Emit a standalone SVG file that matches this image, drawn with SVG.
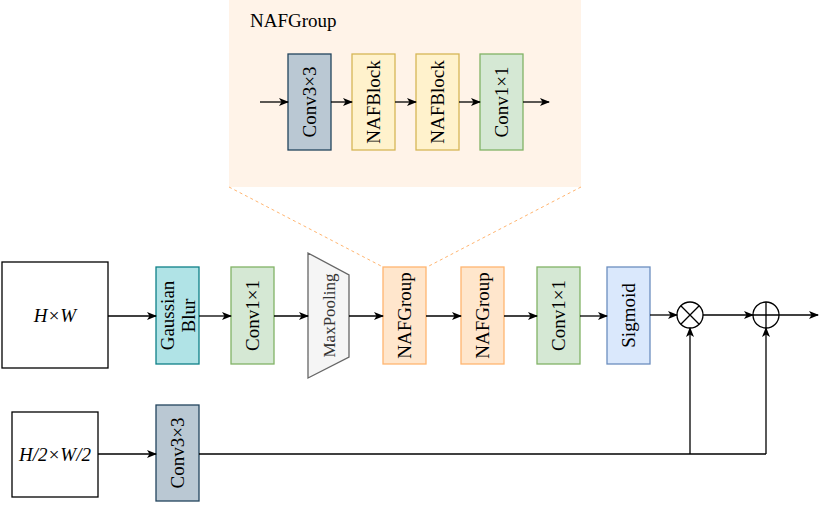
<svg xmlns="http://www.w3.org/2000/svg" width="831" height="506" viewBox="0 0 831 506">
<defs>
<marker id="arr" viewBox="0 0 10 10" refX="9" refY="5" markerWidth="10" markerHeight="10" markerUnits="userSpaceOnUse" orient="auto">
<path d="M0,1 L10,5 L0,9 L2.5,5 Z" fill="#000"/>
</marker>
<style>
text{font-family:"Liberation Serif","Times New Roman",serif;font-size:19px;fill:#000}
.lbl{text-anchor:middle}
.it{font-style:italic}
.c{fill:none;stroke:#000;stroke-width:1.3}
.blue{fill:#bac8d3;stroke:#23445d;stroke-width:1.3}
.yel{fill:#fff2cc;stroke:#d6b656;stroke-width:1.3}
.grn{fill:#d5e8d4;stroke:#82b366;stroke-width:1.3}
.org{fill:#ffe6cc;stroke:#ffb570;stroke-width:1.3}
.cyan{fill:#b0e3e6;stroke:#0e8088;stroke-width:1.3}
.sig{fill:#dae8fc;stroke:#6c8ebf;stroke-width:1.3}
.wht{fill:#fff;stroke:#000;stroke-width:1.3}
</style>
</defs>
<rect width="831" height="506" fill="#fff"/>

<g id="panel">
<rect x="229" y="0" width="352" height="187" fill="#fff3e8"/>
<text x="250" y="27">NAFGroup</text>
</g>

<g id="dashes">
<path d="M229,187 L383,267 M581,187 L427,267" fill="none" stroke="#ffb570" stroke-width="1" stroke-dasharray="3,3"/>
</g>

<g id="in_conv3"><rect class="blue" x="288" y="54" width="43" height="96"/><text class="lbl" transform="translate(309.5,102) rotate(-90)" dy="6.5">Conv3×3</text></g>
<g id="in_naf1"><rect class="yel" x="352" y="54" width="43" height="96"/><text class="lbl" transform="translate(373.5,102) rotate(-90)" dy="6.5">NAFBlock</text></g>
<g id="in_naf2"><rect class="yel" x="416" y="54" width="43" height="96"/><text class="lbl" transform="translate(437.5,102) rotate(-90)" dy="6.5">NAFBlock</text></g>
<g id="in_conv1"><rect class="grn" x="480" y="54" width="43" height="96"/><text class="lbl" transform="translate(501.5,102) rotate(-90)" dy="6.5">Conv1×1</text></g>

<g id="hw"><rect class="wht" x="2" y="262" width="106" height="106"/><text class="lbl it" x="55" y="321.5">H×W</text></g>
<g id="gauss"><rect class="cyan" x="156" y="267" width="43" height="97"/>
<text class="lbl" transform="translate(177.5,315.5) rotate(-90)"><tspan x="0" y="-4">Gaussian</tspan><tspan x="0" y="17">Blur</tspan></text></g>
<g id="conv1a"><rect class="grn" x="231" y="267" width="43" height="97"/><text class="lbl" transform="translate(252.5,315.5) rotate(-90)" dy="6.5">Conv1×1</text></g>
<g id="maxpool"><path d="M308,253 L349,275 L349,357 L308,378 Z" fill="#f5f5f5" stroke="#666" stroke-width="1.3"/><text class="lbl" transform="translate(329,315.5) rotate(-90)" dy="6" style="font-size:17px;fill:#333">MaxPooling</text></g>
<g id="naf1"><rect class="org" x="383" y="267" width="43" height="97"/><text class="lbl" transform="translate(404.5,315.5) rotate(-90)" dy="6.5">NAFGroup</text></g>
<g id="naf2"><rect class="org" x="461" y="267" width="43" height="97"/><text class="lbl" transform="translate(482.5,315.5) rotate(-90)" dy="6.5">NAFGroup</text></g>
<g id="conv1b"><rect class="grn" x="537" y="267" width="43" height="97"/><text class="lbl" transform="translate(558.5,315.5) rotate(-90)" dy="6.5">Conv1×1</text></g>
<g id="sigmoid"><rect class="sig" x="607" y="267" width="43" height="97"/><text class="lbl" transform="translate(628.5,315.5) rotate(-90)" dy="6.5">Sigmoid</text></g>
<g id="mul"><circle cx="690" cy="315" r="13" fill="#fff" stroke="#000" stroke-width="1.3"/><path d="M680.8,305.8 L699.2,324.2 M699.2,305.8 L680.8,324.2" stroke="#000" stroke-width="1.3"/></g>
<g id="add"><circle cx="766" cy="315" r="13" fill="#fff" stroke="#000" stroke-width="1.3"/><path d="M753,315 L779,315 M766,302 L766,328" stroke="#000" stroke-width="1.3"/></g>

<g id="hw2"><rect class="wht" x="12" y="412" width="86" height="85"/><text class="lbl it" x="55" y="461">H/2×W/2</text></g>
<g id="conv3b"><rect class="blue" x="156" y="405" width="43" height="96"/><text class="lbl" transform="translate(177.5,453) rotate(-90)" dy="6.5">Conv3×3</text></g>

<g id="connectors">
<path class="c" d="M260,102 L288,102" marker-end="url(#arr)"/>
<path class="c" d="M331,102 L352,102" marker-end="url(#arr)"/>
<path class="c" d="M395,102 L416,102" marker-end="url(#arr)"/>
<path class="c" d="M459,102 L480,102" marker-end="url(#arr)"/>
<path class="c" d="M523,102 L549,102" marker-end="url(#arr)"/>
<path class="c" d="M108,316 L156,316" marker-end="url(#arr)"/>
<path class="c" d="M199,316 L231,316" marker-end="url(#arr)"/>
<path class="c" d="M274,316 L308,316" marker-end="url(#arr)"/>
<path class="c" d="M349,316 L383,316" marker-end="url(#arr)"/>
<path class="c" d="M426,316 L461,316" marker-end="url(#arr)"/>
<path class="c" d="M504,316 L537,316" marker-end="url(#arr)"/>
<path class="c" d="M580,316 L607,316" marker-end="url(#arr)"/>
<path class="c" d="M650,315 L677,315" marker-end="url(#arr)"/>
<path class="c" d="M703,315 L753,315" marker-end="url(#arr)"/>
<path class="c" d="M779,315 L818,315" marker-end="url(#arr)"/>
<path class="c" d="M98,454 L156,454" marker-end="url(#arr)"/>
<path class="c" d="M199,454 L766,454"/>
<path class="c" d="M690,454 L690,328" marker-end="url(#arr)"/>
<path class="c" d="M766,454 L766,328" marker-end="url(#arr)"/>
</g>
</svg>
